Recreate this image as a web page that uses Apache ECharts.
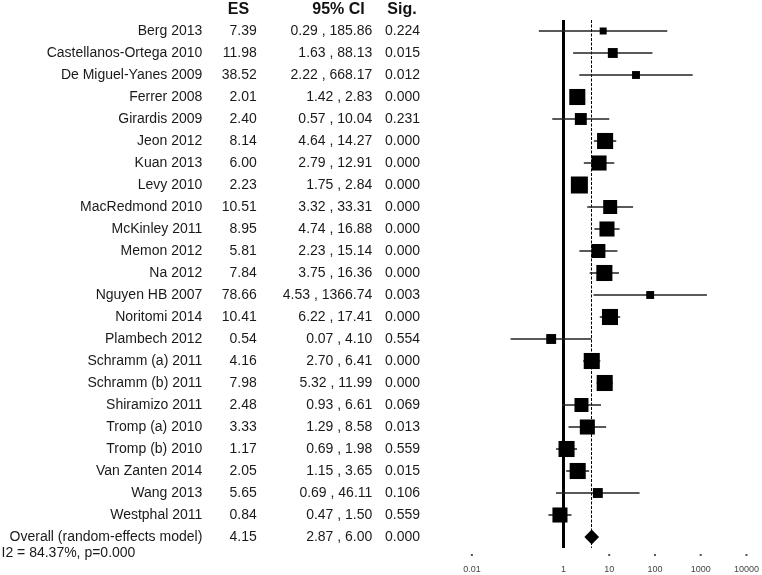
<!DOCTYPE html>
<html>
<head>
<meta charset="utf-8">
<script src="https://cdn.jsdelivr.net/npm/echarts@6/dist/echarts.min.js"></script>
<style>
html,body{margin:0;padding:0;background:#fff;}
#chart{width:762px;height:575px;}
</style>
</head>
<body>
<div id="chart"></div>
<script>
// ---- data ----
const studies = ['Berg 2013','Castellanos-Ortega 2010','De Miguel-Yanes 2009','Ferrer 2008','Girardis 2009','Jeon 2012','Kuan 2013','Levy 2010','MacRedmond 2010','McKinley 2011','Memon 2012','Na 2012','Nguyen HB 2007','Noritomi 2014','Plambech 2012','Schramm (a) 2011','Schramm (b) 2011','Shiramizo 2011','Tromp (a) 2010','Tromp (b) 2010','Van Zanten 2014','Wang 2013','Westphal 2011'];
const es = [7.39, 11.98, 38.52, 2.01, 2.40, 8.14, 6.00, 2.23, 10.51, 8.95, 5.81, 7.84, 78.66, 10.41, 0.54, 4.16, 7.98, 2.48, 3.33, 1.17, 2.05, 5.65, 0.84];
const ciLow = [0.29, 1.63, 2.22, 1.42, 0.57, 4.64, 2.79, 1.75, 3.32, 4.74, 2.23, 3.75, 4.53, 6.22, 0.07, 2.70, 5.32, 0.93, 1.29, 0.69, 1.15, 0.69, 0.47];
const ciHigh = [185.86, 88.13, 668.17, 2.83, 10.04, 14.27, 12.91, 2.84, 33.31, 16.88, 15.14, 16.36, 1366.74, 17.41, 4.10, 6.41, 11.99, 6.61, 8.58, 1.98, 3.65, 46.11, 1.50];
const sig = ['0.224','0.015','0.012','0.000','0.231','0.000','0.000','0.000','0.000','0.000','0.000','0.000','0.003','0.000','0.554','0.000','0.000','0.069','0.013','0.559','0.015','0.106','0.559'];
// estimated relative study weights (%), shown as box area
const weights = [1.1, 2.2, 1.4, 5.8, 3.2, 5.8, 5.1, 6.5, 4.4, 5.1, 4.4, 5.8, 1.4, 5.8, 2.2, 5.8, 5.8, 4.4, 5.1, 5.8, 5.8, 2.2, 5.1];
const overallLabel = 'Overall (random-effects model)';
const overallEs = 4.15, overallLow = 2.87, overallHigh = 6.00, overallSig = '0.000';
const heterogeneity = 'I2 = 84.37%, p=0.000';
const headers = ['ES', '95% CI', 'Sig.'];
const xTickLabels = {'-2':'0.01','-1':'','0':'1','1':'10','2':'100','3':'1000','4':'10000'};

// ---- build ----
const rowNames = studies.concat([overallLabel]);
const esText = es.map(v => v.toFixed(2)).concat([overallEs.toFixed(2)]);
const ciText = ciLow.map((v,i) => v.toFixed(2) + ' , ' + ciHigh[i].toFixed(2)).concat([overallLow.toFixed(2) + ' , ' + overallHigh.toFixed(2)]);
const sigText = sig.concat([overallSig]);

const studyData = studies.map((s,i) => [es[i], i, ciLow[i], ciHigh[i], weights[i]]);
const overallData = [[overallEs, studies.length, overallLow, overallHigh]];

const FONT = "'Liberation Sans', Arial, sans-serif";
const chart = echarts.init(document.getElementById('chart'), null, {renderer:'canvas'});
const gridLeft = 471.9, gridRight = 15.3;

function colAxis(offset, texts) {
  return {
    type:'category', gridIndex:0, inverse:true, position:'left', offset: offset,
    data: rowNames,
    axisLine:{show:false}, axisTick:{show:false}, splitLine:{show:false},
    axisLabel:{show:true, interval:0, margin:0, fontSize:14, color:'#1a1a1a', fontFamily:FONT,
      formatter:(v, i) => texts[i]}
  };
}

function renderStudy(params, api) {
  const y = api.value(1);
  const pEs = api.coord([api.value(0), y]);
  const pLo = api.coord([api.value(2), y]);
  const pHi = api.coord([api.value(3), y]);
  const s = 6.67 * Math.sqrt(api.value(4));
  return {type:'group', children:[
    {type:'line', shape:{x1:pLo[0], y1:pLo[1], x2:pHi[0], y2:pHi[1]}, style:{stroke:'#222', lineWidth:1.5}},
    {type:'rect', shape:{x:pEs[0]-s/2, y:pEs[1]-s/2, width:s, height:s}, style:{fill:'#000'}}
  ]};
}
function renderOverall(params, api) {
  const y = api.value(1);
  const pEs = api.coord([api.value(0), y]);
  const pLo = api.coord([api.value(2), y]);
  const pHi = api.coord([api.value(3), y]);
  const h = 7.5;
  return {type:'polygon', shape:{points:[[pLo[0],pEs[1]],[pEs[0],pEs[1]-h],[pHi[0],pEs[1]],[pEs[0],pEs[1]+h]]}, style:{fill:'#000'}};
}

const option = {
  animation:false,
  backgroundColor:'#fff',
  grid:{left:gridLeft, right:gridRight, top:20, bottom:27, containLabel:false},
  xAxis:{
    type:'log', logBase:10, min:0.01, max:10000, splitNumber:6,
    axisLine:{show:false}, axisTick:{show:false}, splitLine:{show:false},
    axisLabel:{
      margin:6, fontSize:9, color:'#444', fontFamily:FONT,
      formatter:(v) => {
        const e = String(Math.round(Math.log10(v)));
        const t = xTickLabels[e];
        if (!t) return '';
        if (e === '0') return '{gap| }\n{t|' + t + '}';
        return '{dot| }\n{t|' + t + '}';
      },
      rich:{
        dot:{width:2, height:2, lineHeight:2, backgroundColor:'#555', fontSize:1},
        gap:{width:2, height:2, lineHeight:2, fontSize:1},
        t:{fontSize:9, lineHeight:27, color:'#444', fontFamily:FONT}
      }
    }
  },
  yAxis:[
    colAxis(gridLeft - 202.3, rowNames),
    colAxis(gridLeft - 256.7, esText),
    colAxis(gridLeft - 372.3, ciText),
    colAxis(gridLeft - 420, sigText)
  ],
  series:[
    {
      type:'custom', name:'studies', renderItem:renderStudy, data:studyData,
      encode:{x:0, y:1}, xAxisIndex:0, yAxisIndex:0, z:5,
      markLine:{
        silent:true, symbol:'none', label:{show:false},
        data:[
          {xAxis:1, lineStyle:{color:'#000', width:3, type:'solid'}},
          {xAxis:overallEs, lineStyle:{color:'#000', width:1, type:[3,1.5]}}
        ]
      }
    },
    {
      type:'custom', name:'overall', renderItem:renderOverall, data:overallData,
      encode:{x:0, y:1}, xAxisIndex:0, yAxisIndex:0, z:6
    }
  ],
  graphic:[
    {type:'text', x:238.5, y:10, style:{text:headers[0], font:'bold 16px ' + FONT, fill:'#111', align:'center', verticalAlign:'middle'}},
    {type:'text', x:338.5, y:10, style:{text:headers[1], font:'bold 16px ' + FONT, fill:'#111', align:'center', verticalAlign:'middle'}},
    {type:'text', x:402, y:10, style:{text:headers[2], font:'bold 16px ' + FONT, fill:'#111', align:'center', verticalAlign:'middle'}},
    {type:'text', x:1.5, y:553, style:{text:heterogeneity, font:'14px ' + FONT, fill:'#1a1a1a', align:'left', verticalAlign:'middle'}}
  ]
};
chart.setOption(option);
</script>
</body>
</html>
